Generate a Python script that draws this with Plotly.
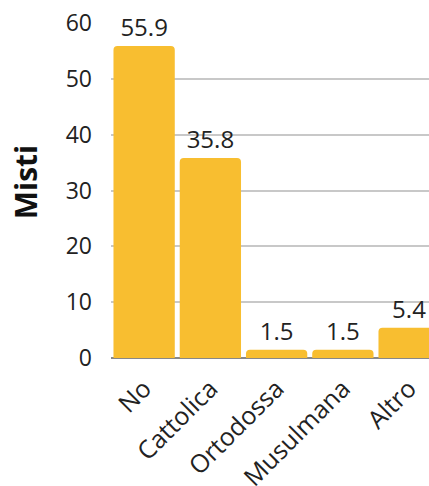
import plotly.graph_objects as go

categories = ["No", "Cattolica", "Ortodossa", "Musulmana", "Altro"]
values = [55.9, 35.8, 1.5, 1.5, 5.4]
y_ticks = [0, 10, 20, 30, 40, 50, 60]
y_title = "Misti"

fig = go.Figure(go.Bar(
    x=categories, y=values,
    marker=dict(color="#F8BE30", cornerradius=4, line=dict(width=0)),
    text=[f"{v:.1f}" for v in values],
    textposition="outside",
    textfont=dict(size=24, color="#222222", family="Open Sans"),
    cliponaxis=False,
))

fig.update_layout(
    width=429, height=486,
    margin=dict(l=111, r=0, t=23, b=128),
    plot_bgcolor="white", paper_bgcolor="white",
    bargap=0.075,
    font=dict(family="Open Sans", color="#222222"),
    showlegend=False,
    annotations=[dict(
        text=f"<b>{y_title}</b>", textangle=-90,
        xref="paper", yref="paper", x=-0.27, y=0.525,
        xanchor="center", yanchor="middle", showarrow=False,
        font=dict(size=30, color="#111111"),
    )],
)
fig.update_xaxes(
    range=[-0.5, 4.3],
    tickangle=-45,
    tickfont=dict(size=25, color="#222222"),
    ticklabelstandoff=10,
    automargin=False,
    showgrid=False, showline=False, ticks="",
)
fig.update_yaxes(
    range=[0, 60],
    tickvals=y_ticks,
    tickfont=dict(size=23, color="#222222"),
    automargin=False,
    showgrid=True, gridcolor="#C8C8C8", gridwidth=1.5,
    zeroline=True, zerolinecolor="#888888", zerolinewidth=1.5,
    ticks="", ticklen=0, ticklabelstandoff=18,
)

fig.write_html("out.html", config={"displayModeBar": False},
               post_script="document.body.style.margin='0';document.body.style.overflow='hidden';")
